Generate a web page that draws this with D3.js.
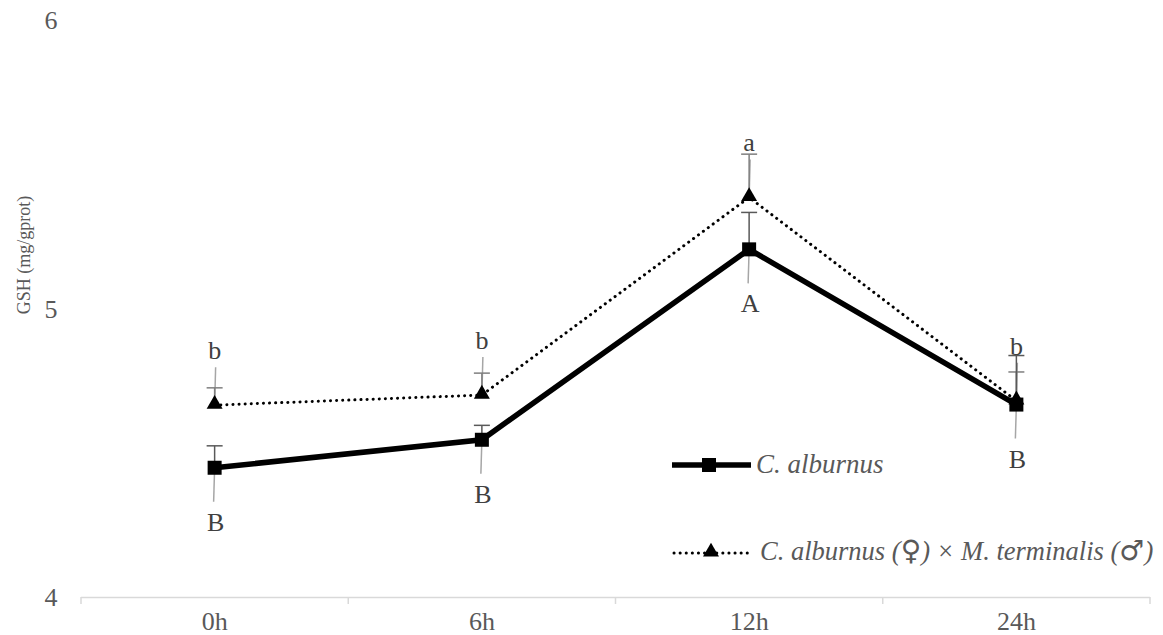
<!DOCTYPE html>
<html><head><meta charset="utf-8">
<script src="https://cdn.jsdelivr.net/npm/d3@7"></script>
<style>body{margin:0;background:#fff}svg{display:block}
text{font-family:"Liberation Serif","Times New Roman",Times,serif}
.sym{font-family:"DejaVu Sans",sans-serif}
</style>
</head><body>
<svg id="c" width="1163" height="635"></svg>
<script>
const categories = ["0h","6h","12h","24h"];
const seriesNames = ["C. alburnus", "C. alburnus (", "\u2640", ") \u00d7 M. terminalis (", "\u2642", ")"];
const valuesA = [4.448, 4.545, 5.205, 4.667];
const valuesB = [4.665, 4.700, 5.385, 4.680];
const errA = [0.076, 0.050, 0.128, 0.170];
const errB = [0.060, 0.076, 0.150, 0.100];
const lettersA = ["B","B","A","B"];
const lettersB = ["b","b","a","b"];
const yTicks = [4,5,6];

const svg = d3.select("#c");
const x = d3.scaleBand().domain(categories).range([81,1150]).paddingInner(0).paddingOuter(0);
const xc = d => x(d) + x.bandwidth()/2;
const y = d3.scaleLinear().domain([4,6]).range([597,20]);

// x axis
svg.append("line").attr("x1",81).attr("x2",1150).attr("y1",y(4)+0.5).attr("y2",y(4)+0.5)
  .attr("stroke","#d9d9d9").attr("stroke-width",1.5);
const bounds = categories.map(c=>x(c)).concat([x(categories[3])+x.bandwidth()]);
svg.selectAll(".xt").data(bounds).join("line").attr("x1",d=>d).attr("x2",d=>d)
  .attr("y1",y(4)).attr("y2",y(4)+7).attr("stroke","#d9d9d9").attr("stroke-width",1.5);
svg.selectAll(".xl").data(categories).join("text").attr("x",xc).attr("y",630)
  .attr("text-anchor","middle").attr("font-size",26).attr("fill","#595959").text(d=>d);

// y tick labels
svg.selectAll(".yl").data(yTicks).join("text").attr("x",51).attr("y",d=>y(d)+9)
  .attr("text-anchor","middle").attr("font-size",26).attr("fill","#595959").text(d=>d);
svg.append("text").attr("transform","translate(30,255) rotate(-90)").attr("text-anchor","middle")
  .attr("font-size",18).attr("fill","#595959").text("GSH (mg/gprot)");

// leader lines
const leader = "#a6a6a6";
categories.forEach((c,i)=>{
  svg.append("line").attr("x1",xc(c)).attr("x2",xc(c)-1).attr("y1",y(valuesA[i])).attr("y2",y(valuesA[i])+34)
    .attr("stroke",leader).attr("stroke-width",1.5);
  svg.append("line").attr("x1",xc(c)).attr("x2",xc(c)+1).attr("y1",y(valuesB[i])).attr("y2",y(valuesB[i])-38)
    .attr("stroke",leader).attr("stroke-width",1.5);
});

// error bars
function errBars(vals, errs, col){
  categories.forEach((c,i)=>{
    const cx = xc(c), top = y(vals[i]+errs[i]);
    svg.append("line").attr("x1",cx).attr("x2",cx).attr("y1",y(vals[i])).attr("y2",top).attr("stroke",col).attr("stroke-width",1.5);
    svg.append("line").attr("x1",cx-8).attr("x2",cx+8).attr("y1",top).attr("y2",top).attr("stroke",col).attr("stroke-width",1.5);
  });
}
errBars(valuesB, errB, "#7f7f7f");
errBars(valuesA, errA, "#595959");

// lines
const line = d3.line().x((d,i)=>xc(categories[i])).y(d=>y(d));
svg.append("path").datum(valuesB).attr("d",line).attr("fill","none").attr("stroke","#000")
  .attr("stroke-width",3).attr("stroke-dasharray","0.1,6").attr("stroke-linecap","round");
svg.append("path").datum(valuesA).attr("d",line).attr("fill","none").attr("stroke","#000")
  .attr("stroke-width",5.5).attr("stroke-linejoin","miter");

const tri = d3.symbol().type(d3.symbolTriangle).size(110);
svg.selectAll(".tri").data(valuesB).join("path").attr("d",tri)
  .attr("transform",(d,i)=>`translate(${xc(categories[i])},${y(d)-1})`).attr("fill","#000");
svg.selectAll(".sq").data(valuesA).join("rect")
  .attr("x",(d,i)=>xc(categories[i])-7).attr("y",d=>y(d)-7).attr("width",14).attr("height",14).attr("fill","#000");

// letters
svg.selectAll(".la").data(valuesA).join("text").attr("x",(d,i)=>xc(categories[i])+1).attr("y",d=>y(d)+63)
  .attr("text-anchor","middle").attr("font-size",26).attr("fill","#404040").text((d,i)=>lettersA[i]);
svg.selectAll(".lb").data(valuesB).join("text").attr("x",(d,i)=>xc(categories[i])).attr("y",d=>y(d)-46)
  .attr("text-anchor","middle").attr("font-size",26).attr("fill","#404040").text((d,i)=>lettersB[i]);

// legend
const lg = svg.append("g");
lg.append("line").attr("x1",672).attr("x2",751).attr("y1",465).attr("y2",465).attr("stroke","#000").attr("stroke-width",5.5);
lg.append("rect").attr("x",702).attr("y",458).attr("width",14).attr("height",14).attr("fill","#000");
lg.append("text").attr("x",756).attr("y",473).attr("font-style","italic").attr("font-size",27).attr("fill","#595959").text(seriesNames[0]);
lg.append("line").attr("x1",674).attr("x2",748).attr("y1",553).attr("y2",553).attr("stroke","#000")
  .attr("stroke-width",3).attr("stroke-dasharray","0.1,6").attr("stroke-linecap","round");
lg.append("path").attr("d",tri).attr("transform","translate(711,552)").attr("fill","#000");
const t2 = lg.append("text").attr("x",760).attr("y",560).attr("font-style","italic").attr("font-size",26.5).attr("fill","#595959");
seriesNames.slice(1).forEach((s,i)=>{
  const sp = t2.append("tspan").text(s);
  if (i===1 || i===3) sp.attr("class","sym").attr("font-style","normal").attr("font-size",28);
});
</script>
</body></html>
